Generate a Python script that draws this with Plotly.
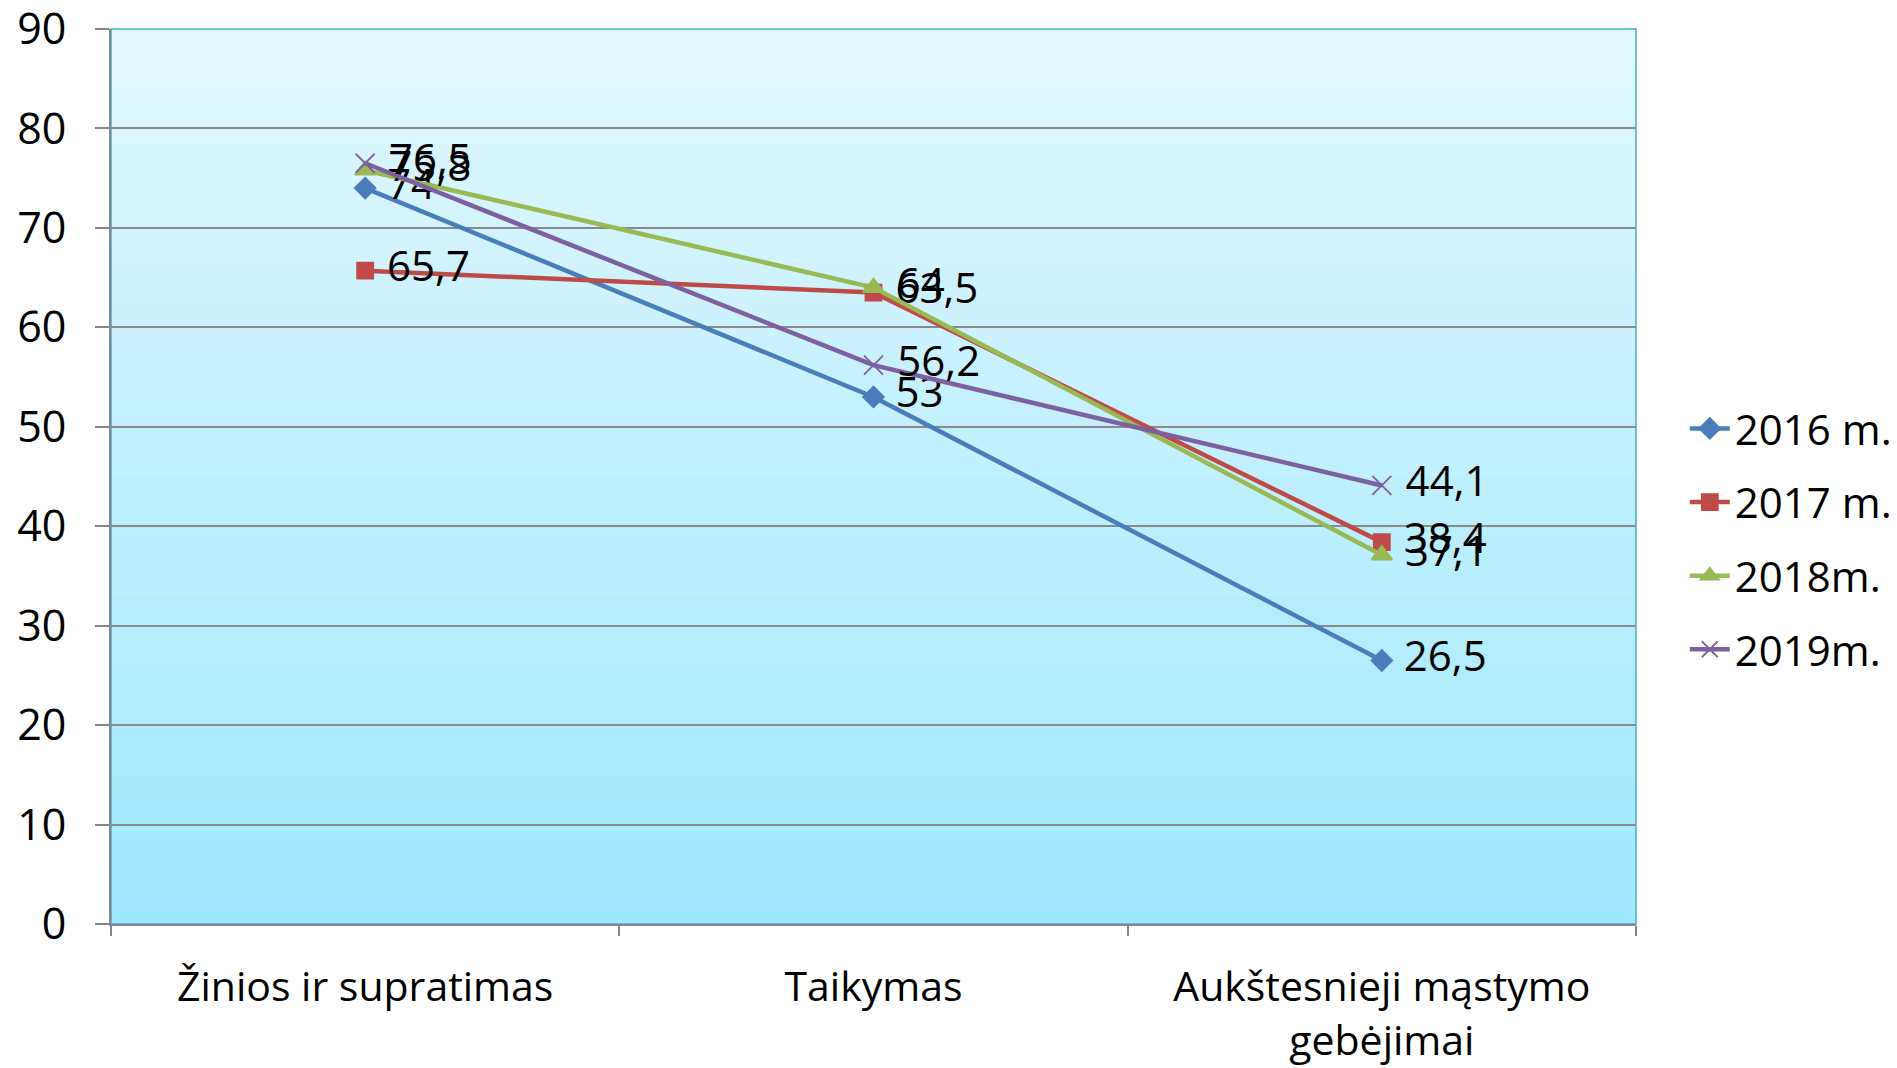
import plotly.graph_objects as go

categories = ["Žinios ir supratimas", "Taikymas", "Aukštesnieji mąstymo<br>gebėjimai"]
series_names = ["2016 m.", "2017 m.", "2018m.", "2019m."]
v2016 = [74, 53, 26.5]
v2017 = [65.7, 63.5, 38.4]
v2018 = [75.8, 64, 37.1]
v2019 = [76.5, 56.2, 44.1]
y_ticks = [0, 10, 20, 30, 40, 50, 60, 70, 80, 90]

values = [v2016, v2017, v2018, v2019]
colors = ["#4A7EBB", "#BE4B48", "#98B954", "#7D60A0"]
symbols = ["diamond", "square", "triangle-up", "x-thin-open"]
msizes = [16, 16, 18, 19]

FONT = "Open Sans, sans-serif"


def fmt(v):
    s = ("%g" % v).replace(".", ",")
    return " " + s


fig = go.Figure()
for name, vals, c, sym, ms in zip(series_names, values, colors, symbols, msizes):
    fig.add_trace(go.Scatter(
        x=categories, y=vals, name=name, legendgroup=name,
        mode="lines+markers+text",
        line=dict(color=c, width=4.5),
        marker=dict(symbol=sym, size=ms, color=c, line=dict(color=c, width=1.8)),
        text=[fmt(v) for v in vals],
        textposition="middle right",
        textfont=dict(family=FONT, size=42, color="#000000"),
        cliponaxis=False,
    ))

# gradient background bands
shapes = []
n = 60
top = (225, 247, 254)
bot = (159, 232, 253)
for i in range(n):
    t = i / (n - 1)
    r = round(bot[0] + (top[0] - bot[0]) * t)
    g = round(bot[1] + (top[1] - bot[1]) * t)
    b = round(bot[2] + (top[2] - bot[2]) * t)
    shapes.append(dict(type="rect", xref="x domain", yref="y domain",
                       x0=0, x1=1, y0=i / n, y1=(i + 1) / n + 0.001,
                       fillcolor=f"rgb({r},{g},{b})", line=dict(width=0), layer="below"))
shapes.append(dict(type="rect", xref="x domain", yref="y domain", x0=0, x1=1, y0=0, y1=1,
                   line=dict(color="#4BACC6", width=1.5), fillcolor="rgba(0,0,0,0)", layer="below"))

fig.update_layout(
    width=1897, height=1068,
    margin=dict(l=103, r=269, t=21, b=152, autoexpand=False),
    paper_bgcolor="white", plot_bgcolor="rgba(0,0,0,0)",
    font=dict(family=FONT, size=41, color="#000000"),
    shapes=shapes,
    showlegend=True,
    legend=dict(x=1.032, y=0.43, xanchor="left", yanchor="middle",
                font=dict(family=FONT, size=42), tracegroupgap=16,
                bgcolor="rgba(0,0,0,0)", itemwidth=40),
)
fig.update_xaxes(
    type="category", range=[-0.5, 2.5], tickson="boundaries", automargin=False,
    ticks="outside", ticklen=10, tickcolor="#868686", tickwidth=1.5,
    showline=True, linecolor="#868686", linewidth=2, ticklabeloverflow="allow",
    showgrid=False, tickfont=dict(family=FONT, size=41), ticklabelstandoff=26,
)
fig.update_yaxes(
    range=[0, 90], tickvals=y_ticks, ticks="outside", ticklen=14, automargin=False,
    tickcolor="#868686", tickwidth=1.5, ticklabeloverflow="allow",
    showline=True, linecolor="#868686", linewidth=2,
    showgrid=True, gridcolor="#8A8A8A", gridwidth=1.5,
    zeroline=False, tickfont=dict(family=FONT, size=43), ticklabelstandoff=20,
)

fig.write_html("out.html")
